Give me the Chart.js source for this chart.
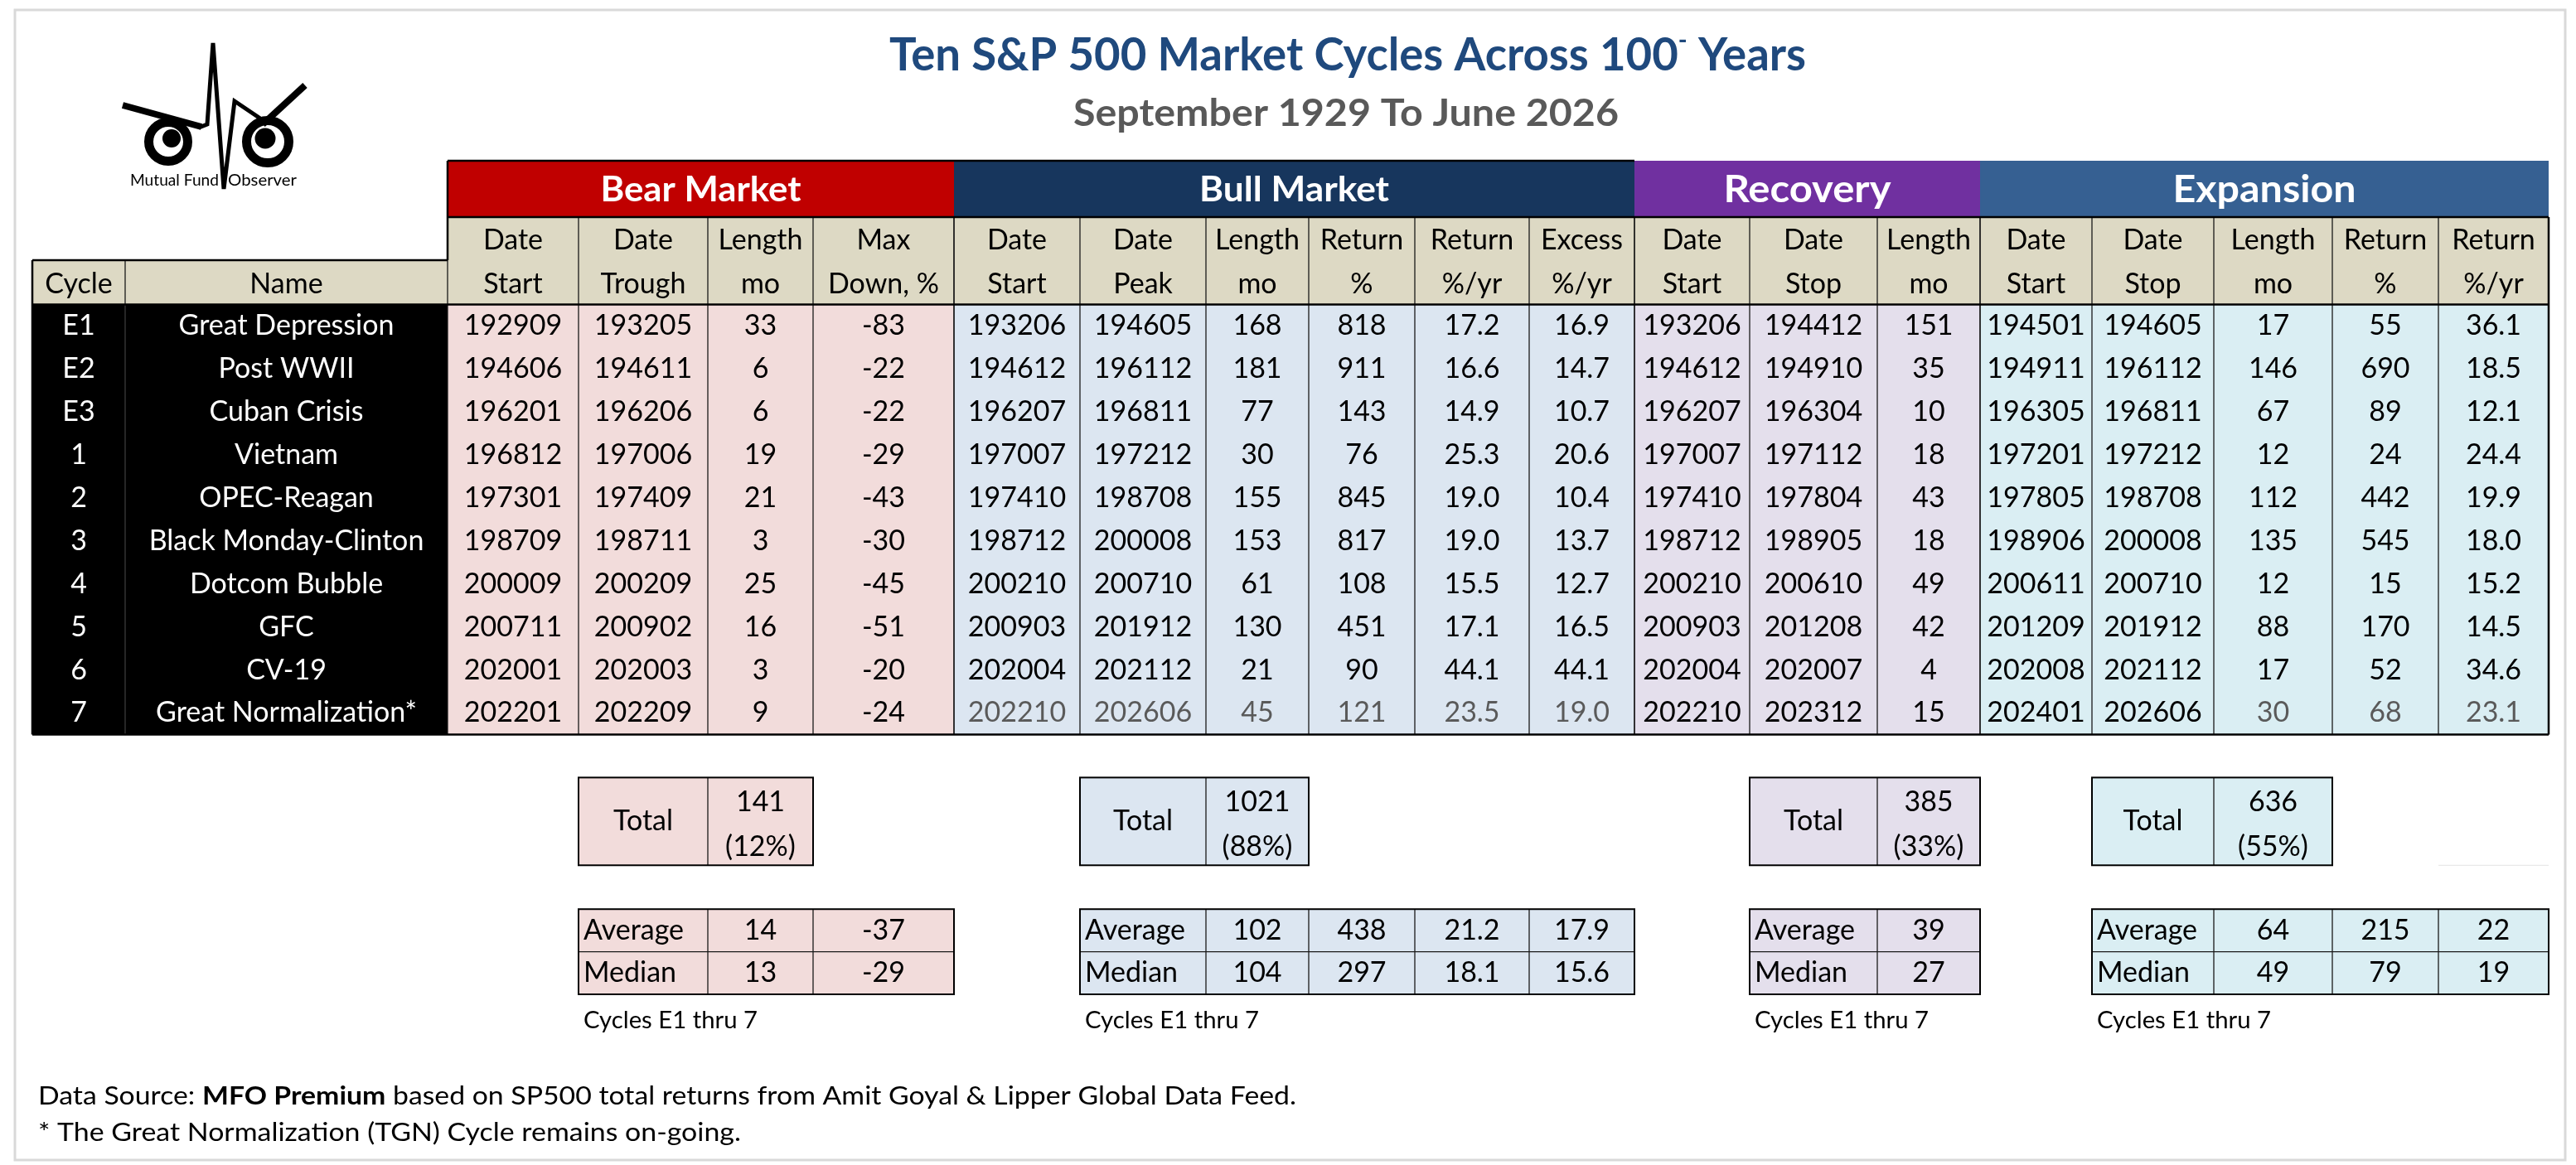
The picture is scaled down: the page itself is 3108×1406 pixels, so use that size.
<!DOCTYPE html>
<html>
<head>
<meta charset="utf-8">
<title>Ten S&amp;P 500 Market Cycles Across 100 Years</title>
<script src="https://cdn.jsdelivr.net/npm/chart.js@4.4.1/dist/chart.umd.min.js"></script>
<style>
  html, body { margin: 0; padding: 0; background: #fff; }
  #contenitore { width: 3108px; height: 1406px; }
</style>
</head>
<body>
<div id="contenitore"><canvas id="tabella"></canvas></div>
<script>
// Cicli di mercato: categorie
const cycles = ["E1", "E2", "E3", "1", "2", "3", "4", "5", "6", "7"];
const names = ["Great Depression", "Post WWII", "Cuban Crisis", "Vietnam", "OPEC-Reagan",
  "Black Monday-Clinton", "Dotcom Bubble", "GFC", "CV-19", "Great Normalization*"];
const phases = ["Bear Market", "Bull Market", "Recovery", "Expansion"];

// Bear market
const bearStart = [192909, 194606, 196201, 196812, 197301, 198709, 200009, 200711, 202001, 202201];
const bearTrough = [193205, 194611, 196206, 197006, 197409, 198711, 200209, 200902, 202003, 202209];
const bearLength = [33, 6, 6, 19, 21, 3, 25, 16, 3, 9];
const bearMaxDown = [-83, -22, -22, -29, -43, -30, -45, -51, -20, -24];

// Bull market
const bullStart = [193206, 194612, 196207, 197007, 197410, 198712, 200210, 200903, 202004, 202210];
const bullPeak = [194605, 196112, 196811, 197212, 198708, 200008, 200710, 201912, 202112, 202606];
const bullLength = [168, 181, 77, 30, 155, 153, 61, 130, 21, 45];
const bullReturn = [818, 911, 143, 76, 845, 817, 108, 451, 90, 121];
const bullReturnYr = [17.2, 16.6, 14.9, 25.3, 19.0, 19.0, 15.5, 17.1, 44.1, 23.5];
const bullExcess = [16.9, 14.7, 10.7, 20.6, 10.4, 13.7, 12.7, 16.5, 44.1, 19.0];

// Recovery
const recStart = [193206, 194612, 196207, 197007, 197410, 198712, 200210, 200903, 202004, 202210];
const recStop = [194412, 194910, 196304, 197112, 197804, 198905, 200610, 201208, 202007, 202312];
const recLength = [151, 35, 10, 18, 43, 18, 49, 42, 4, 15];

// Expansion
const expStart = [194501, 194911, 196305, 197201, 197805, 198906, 200611, 201209, 202008, 202401];
const expStop = [194605, 196112, 196811, 197212, 198708, 200008, 200710, 201912, 202112, 202606];
const expLength = [17, 146, 67, 12, 112, 135, 12, 88, 17, 30];
const expReturn = [55, 690, 89, 24, 442, 545, 15, 170, 52, 68];
const expReturnYr = [36.1, 18.5, 12.1, 24.4, 19.9, 18.0, 15.2, 14.5, 34.6, 23.1];

// Intestazioni di colonna (due righe)
const bearHeaders = [["Date", "Start"], ["Date", "Trough"], ["Length", "mo"], ["Max", "Down, %"]];
const bullHeaders = [["Date", "Start"], ["Date", "Peak"], ["Length", "mo"], ["Return", "%"], ["Return", "%/yr"], ["Excess", "%/yr"]];
const recHeaders = [["Date", "Start"], ["Date", "Stop"], ["Length", "mo"]];
const expHeaders = [["Date", "Start"], ["Date", "Stop"], ["Length", "mo"], ["Return", "%"], ["Return", "%/yr"]];

// Riepiloghi
const totalMonths = [141, 1021, 385, 636];
const totalShare = [12, 88, 33, 55];
const bearAverage = [14, -37];
const bearMedian = [13, -29];
const bullAverage = [102, 438, 21.2, 17.9];
const bullMedian = [104, 297, 18.1, 15.6];
const recAverage = [39];
const recMedian = [27];
const expAverage = [64, 215, 22];
const expMedian = [49, 79, 19];

// Layout (larghezze colonne e altezze righe, in unita' delle scale)
const colWidths = {
  cycle: 112, name: 389,
  bear: [158, 156, 127, 170],
  bull: [152, 152, 124, 128, 138, 127],
  rec: [139, 154, 124],
  exp: [135, 147, 143, 128, 133]
};
const rowH = { group: 1.31, sub: 2.03, data: 1, gap1: 1.0, total: 2.04, gap2: 1.02, stat: 0.99 };

const FONT = "Lato, 'Noto Sans', sans-serif";
const GRIGIO = "#5a5a5a";

// Colonne per gruppo
const groups = [
  { title: phases[0], head: "#C00000", fill: "#F2DCDB", font: 42, textW: 242, widths: colWidths.bear,
    headers: bearHeaders, values: [bearStart, bearTrough, bearLength, bearMaxDown], dec: [0, 0, 0, 0], grey: [],
    average: bearAverage, median: bearMedian },
  { title: phases[1], head: "#17365D", fill: "#DCE6F1", font: 42, textW: 229, widths: colWidths.bull,
    headers: bullHeaders, values: [bullStart, bullPeak, bullLength, bullReturn, bullReturnYr, bullExcess],
    dec: [0, 0, 0, 0, 1, 1], grey: [0, 1, 2, 3, 4, 5], average: bullAverage, median: bullMedian },
  { title: phases[2], head: "#7030A0", fill: "#E4DFEC", font: 46, textW: 202, widths: colWidths.rec,
    headers: recHeaders, values: [recStart, recStop, recLength], dec: [0, 0, 0], grey: [],
    average: recAverage, median: recMedian },
  { title: phases[3], head: "#366092", fill: "#DAEEF3", font: 46, textW: 221, widths: colWidths.exp,
    headers: expHeaders, values: [expStart, expStop, expLength, expReturn, expReturnYr],
    dec: [0, 0, 0, 0, 1], grey: [2, 3, 4], average: expAverage, median: expMedian }
];

// Bordi delle colonne
const nameEnd = colWidths.cycle + colWidths.name;
let xAcc = nameEnd;
groups.forEach(g => {
  g.x0 = xAcc;
  g.edges = [xAcc];
  g.widths.forEach(w => { xAcc += w; g.edges.push(xAcc); });
  g.x1 = xAcc;
});
const totalW = xAcc;

// Bordi delle righe
const ySub = rowH.group;
const yData = ySub + rowH.sub;
const yDataEnd = yData + cycles.length * rowH.data;
const yTot = yDataEnd + rowH.gap1;
const yTotEnd = yTot + rowH.total;
const yAvg = yTotEnd + rowH.gap2;
const yMed = yAvg + rowH.stat;
const yMedEnd = yMed + rowH.stat;
const ongoingRow = names.findIndex(n => n.endsWith("*"));

function fmt(v, d) { return d ? v.toFixed(d) : String(v); }

// Testo con larghezza imposta (compressione orizzontale)
function fitText(ctx, pieces, x, y, targetW, align) {
  let w = 0;
  pieces.forEach(p => { ctx.font = p.font; p.w = ctx.measureText(p.text).width; w += p.w; });
  const k = targetW ? targetW / w : 1;
  ctx.save();
  ctx.translate(align === "left" ? x : x - (w * k) / 2, y);
  ctx.scale(k, 1);
  ctx.textAlign = "left";
  let cx = 0;
  pieces.forEach(p => {
    ctx.font = p.font;
    ctx.fillStyle = p.color || ctx.fillStyle;
    ctx.fillText(p.text, cx, p.dy || 0);
    cx += p.w;
  });
  ctx.restore();
}

function drawLogo(ctx, ox, oy) {
  ctx.save();
  ctx.translate(ox, oy);
  ctx.strokeStyle = "#000";
  ctx.fillStyle = "#000";
  // occhi: anello + pupilla
  [[73, 131, 23.5, 77, 127, 11], [193, 131, 25.5, 190, 127, 12.5]].forEach(r => {
    ctx.lineWidth = 11;
    ctx.beginPath(); ctx.arc(r[0], r[1], r[2], 0, Math.PI * 2); ctx.stroke();
    ctx.beginPath(); ctx.arc(r[3], r[4], r[5], 0, Math.PI * 2); ctx.fill();
  });
  ctx.lineCap = "butt";
  ctx.lineJoin = "miter";
  ctx.lineWidth = 8;
  ctx.beginPath(); ctx.moveTo(18, 87); ctx.lineTo(113, 113); ctx.stroke();
  ctx.lineWidth = 5;
  ctx.beginPath();
  ctx.moveTo(110, 114); ctx.lineTo(120, 110); ctx.lineTo(127, 12); ctx.lineTo(140, 188);
  ctx.lineTo(153, 82); ctx.lineTo(190, 107); ctx.stroke();
  ctx.lineWidth = 8;
  ctx.beginPath(); ctx.moveTo(187, 110); ctx.lineTo(238, 63); ctx.stroke();
  ctx.fillStyle = "#000";
  ctx.textBaseline = "alphabetic";
  fitText(ctx, [{ text: "Mutual Fund", font: "19px " + FONT }], 27, 184, 107, "left");
  fitText(ctx, [{ text: "Observer", font: "19px " + FONT }], 145, 184, 83, "left");
  ctx.restore();
}

const tablePlugin = {
  id: "tabella",
  afterDraw(chart) {
    const ctx = chart.ctx;
    const sx = chart.scales.x, sy = chart.scales.y;
    const X = v => sx.getPixelForValue(v);
    const Y = v => sy.getPixelForValue(v);
    const area = chart.chartArea;
    const rect = (x0, y0, x1, y1, c) => { ctx.fillStyle = c; ctx.fillRect(X(x0), Y(y0), X(x1) - X(x0), Y(y1) - Y(y0)); };
    const hline = (x0, x1, y, w, c) => { ctx.strokeStyle = c; ctx.lineWidth = w; ctx.beginPath(); ctx.moveTo(X(x0), Y(y)); ctx.lineTo(X(x1), Y(y)); ctx.stroke(); };
    const vline = (x, y0, y1, w, c) => { ctx.strokeStyle = c; ctx.lineWidth = w; ctx.beginPath(); ctx.moveTo(X(x), Y(y0)); ctx.lineTo(X(x), Y(y1)); ctx.stroke(); };
    const text = (t, x, y, font, color, align) => {
      ctx.font = font; ctx.fillStyle = color; ctx.textAlign = align || "center"; ctx.textBaseline = "middle";
      ctx.fillText(t, x, y);
    };
    const cellFont = "34px " + FONT;

    ctx.save();
    // cornice esterna
    ctx.strokeStyle = "#D9D9D9"; ctx.lineWidth = 3;
    ctx.strokeRect(area.left - 21, 12, X(totalW) - area.left + 41, 1388);

    // intestazioni di gruppo e sottointestazioni
    groups.forEach(g => {
      rect(g.x0, 0, g.x1, ySub, g.head);
      rect(g.x0, ySub, g.x1, yData, "#DDD9C4");
    });
    rect(0, ySub + 1, nameEnd, yData, "#DDD9C4");

    // righe dati
    rect(0, yData, nameEnd, yDataEnd, "#000");
    groups.forEach(g => rect(g.x0, yData, g.x1, yDataEnd, g.fill));

    // linee sottili tra colonne
    const thin = "#1a1a1a";
    groups.forEach(g => g.edges.forEach(e => vline(e, ySub, yDataEnd, 1.3, thin)));
    vline(colWidths.cycle, ySub + 1, yData, 1.3, thin);
    vline(colWidths.cycle, yData, yDataEnd, 1.3, "#3c3c3c");

    // bordi spessi
    const thick = "#000";
    hline(nameEnd, groups[1].x1, 0, 2.5, thick);
    hline(nameEnd, totalW, ySub, 2.5, thick);
    hline(0, nameEnd, ySub + 1, 2.5, thick);
    hline(0, totalW, yData, 2.5, thick);
    hline(0, totalW, yDataEnd, 2.5, thick);
    vline(nameEnd, 0, ySub + 1, 2.5, thick);
    vline(0, ySub + 1, yDataEnd, 2.5, thick);
    vline(totalW, ySub, yDataEnd, 2.5, thick);

    // testi intestazioni
    groups.forEach(g => {
      ctx.fillStyle = "#fff"; ctx.textBaseline = "middle";
      fitText(ctx, [{ text: g.title, font: "bold " + g.font + "px " + FONT, color: "#fff" }],
        (X(g.x0) + X(g.x1)) / 2, Y(ySub / 2) + 1, g.textW);
      g.headers.forEach((h, i) => {
        const cx = (X(g.edges[i]) + X(g.edges[i + 1])) / 2;
        text(h[0], cx, Y(ySub + 0.54), cellFont, "#000");
        text(h[1], cx, Y(ySub + 1.56), cellFont, "#000");
      });
    });
    text("Cycle", (X(0) + X(colWidths.cycle)) / 2, Y(ySub + 1.56), cellFont, "#000");
    text("Name", (X(colWidths.cycle) + X(nameEnd)) / 2, Y(ySub + 1.56), cellFont, "#000");

    // testi dati
    cycles.forEach((c, r) => {
      const cy = Y(yData + r + 0.5);
      text(c, (X(0) + X(colWidths.cycle)) / 2, cy, cellFont, "#fff");
      text(names[r], (X(colWidths.cycle) + X(nameEnd)) / 2, cy, cellFont, "#fff");
      groups.forEach(g => g.values.forEach((vals, i) => {
        const grey = r === ongoingRow && g.grey.includes(i);
        text(fmt(vals[r], g.dec[i]), (X(g.edges[i]) + X(g.edges[i + 1])) / 2, cy, cellFont, grey ? GRIGIO : "#000");
      }));
    });

    // riquadri di riepilogo
    groups.forEach((g, gi) => {
      const e = g.edges;
      // totale
      rect(e[1], yTot, e[3], yTotEnd, g.fill);
      vline(e[2], yTot, yTotEnd, 1.3, thin);
      ctx.strokeStyle = thick; ctx.lineWidth = 2;
      ctx.strokeRect(X(e[1]), Y(yTot), X(e[3]) - X(e[1]), Y(yTotEnd) - Y(yTot));
      text("Total", (X(e[1]) + X(e[2])) / 2, Y(yTot + rowH.total / 2), cellFont, "#000");
      text(String(totalMonths[gi]), (X(e[2]) + X(e[3])) / 2, Y(yTot + 0.58), cellFont, "#000");
      text("(" + totalShare[gi] + "%)", (X(e[2]) + X(e[3])) / 2, Y(yTot + 1.62), cellFont, "#000");

      // media e mediana
      const last = 2 + g.average.length;
      rect(e[1], yAvg, e[last], yMedEnd, g.fill);
      hline(e[1], e[last], yMed, 1.3, thin);
      for (let i = 2; i < last; i++) vline(e[i], yAvg, yMedEnd, 1.3, thin);
      ctx.strokeStyle = thick; ctx.lineWidth = 2;
      ctx.strokeRect(X(e[1]), Y(yAvg), X(e[last]) - X(e[1]), Y(yMedEnd) - Y(yAvg));
      text("Average", X(e[1]) + 6, Y(yAvg + rowH.stat / 2), cellFont, "#000", "left");
      text("Median", X(e[1]) + 6, Y(yMed + rowH.stat / 2), cellFont, "#000", "left");
      g.average.forEach((v, i) => {
        const cx = (X(e[2 + i]) + X(e[3 + i])) / 2;
        text(String(v), cx, Y(yAvg + rowH.stat / 2), cellFont, "#000");
        text(String(g.median[i]), cx, Y(yMed + rowH.stat / 2), cellFont, "#000");
      });
      ctx.fillStyle = "#000"; ctx.textBaseline = "middle";
      fitText(ctx, [{ text: "Cycles " + cycles[0] + " thru " + cycles[cycles.length - 1], font: "28px " + FONT, color: "#000" }],
        X(e[1]) + 6, Y(yMedEnd + 0.62), 210, "left");
    });
    // traccia di griglia chiara a destra del totale Expansion
    hline(groups[3].edges[4], groups[3].edges[5], yTotEnd, 1, "#E3E3E3");

    // titolo e sottotitolo
    ctx.textBaseline = "alphabetic";
    fitText(ctx, [
      { text: "Ten S&P 500 Market Cycles Across 100", font: "bold 56px " + FONT, color: "#1F497D" },
      { text: "-", font: "bold 30px " + FONT, color: "#1F497D", dy: -26 },
      { text: " Years", font: "bold 56px " + FONT, color: "#1F497D" }
    ], area.left + 1587, 85, 1106);
    fitText(ctx, [{ text: "September 1929 To June 2026", font: "bold 46px " + FONT, color: "#595959" }],
      area.left + 1585, 152, 658);

    // note a pie' di pagina
    ctx.textBaseline = "middle";
    fitText(ctx, [
      { text: "Data Source: ", font: "30px " + FONT, color: "#000" },
      { text: "MFO Premium", font: "bold 30px " + FONT, color: "#000" },
      { text: " based on SP500 total returns from Amit Goyal & Lipper Global Data Feed.", font: "30px " + FONT, color: "#000" }
    ], area.left + 7, Y(yMedEnd) + 123, 1518, "left");
    fitText(ctx, [{ text: "* The Great Normalization (TGN) Cycle remains on-going.", font: "30px " + FONT, color: "#000" }],
      area.left + 7, Y(yMedEnd) + 167, 848, "left");

    drawLogo(ctx, 130, 40);
    ctx.restore();
  }
};

document.fonts.ready.then(() => {
  new Chart(document.getElementById("tabella"), {
    type: "scatter",
    data: { datasets: [{ data: [], pointRadius: 0 }] },
    options: {
      responsive: true,
      maintainAspectRatio: false,
      animation: false,
      layout: { padding: { left: 39, right: 33, top: 194, bottom: 206 } },
      scales: {
        x: { type: "linear", min: 0, max: totalW, display: false },
        y: { type: "linear", min: 0, max: yMedEnd, reverse: true, display: false }
      },
      plugins: { legend: { display: false }, tooltip: { enabled: false } }
    },
    plugins: [tablePlugin]
  });
});
</script>
</body>
</html>
